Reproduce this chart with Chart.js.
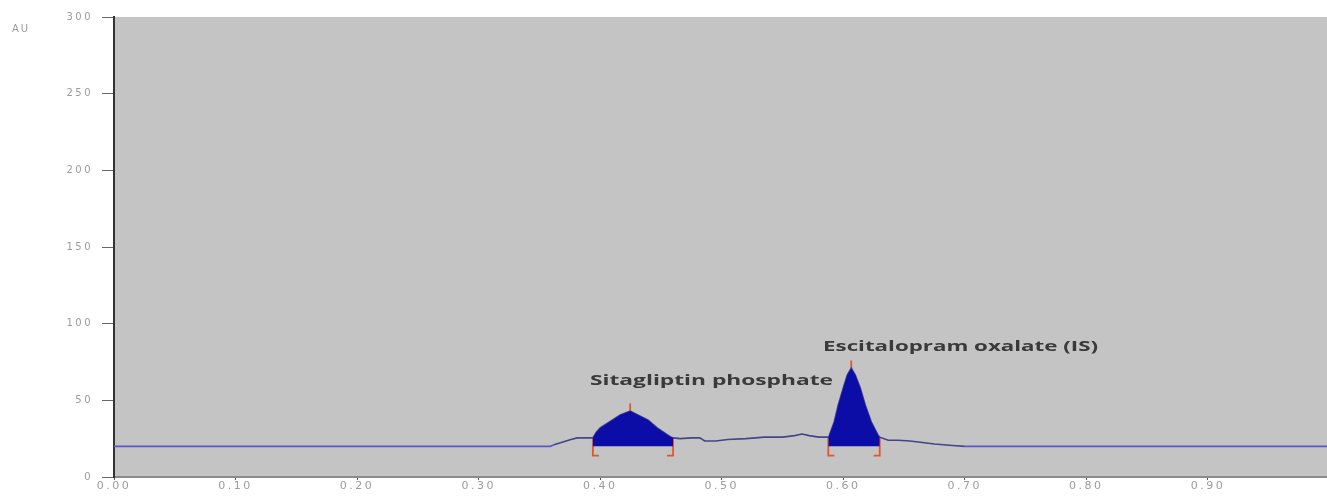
<!DOCTYPE html>
<html>
<head>
<meta charset="utf-8">
<script src="https://cdn.jsdelivr.net/npm/chart.js@4/dist/chart.umd.min.js"></script>
<style>
  html, body { margin: 0; padding: 0; background: #fff; }
  #wrap { width: 1327px; height: 496px; position: relative; }
</style>
</head>
<body>
<div id="wrap"><canvas id="densitogram"></canvas></div>
<script>
// Rf values (x) and absorbance in AU (y)
const rfValues = [
  0.000, 0.359, 0.362, 0.368, 0.372, 0.376, 0.381, 0.388, 0.394,
  0.3967, 0.400, 0.4099, 0.4165, 0.4247, 0.4395, 0.4469, 0.4576, 0.460,
  0.466, 0.475, 0.482, 0.486, 0.495, 0.505, 0.520, 0.535, 0.550, 0.560, 0.566, 0.572, 0.580, 0.5877,
  0.5885, 0.5926, 0.5959, 0.600, 0.6033, 0.6066, 0.6099, 0.614, 0.6181, 0.623, 0.6288, 0.630,
  0.637, 0.645, 0.655, 0.665, 0.675, 0.690, 0.700, 0.998
];
const auValues = [
  20, 20, 21, 22.5, 23.5, 24.5, 25.5, 25.5, 25.5,
  29, 32, 37, 40.4, 43, 37, 32, 26.3, 25.5,
  25, 25.5, 25.5, 23.5, 23.5, 24.5, 25, 26, 26, 27, 28, 27, 26, 26,
  27, 36, 47, 58, 66.5, 71, 66.5, 58, 47, 36, 27, 26,
  24, 24, 23.5, 22.5, 21.5, 20.5, 20, 20
];

const peakNames = ['Sitagliptin phosphate', 'Escitalopram oxalate (IS)'];
const peakStart = [0.394, 0.5877];
const peakEnd = [0.460, 0.630];
const peakApex = [0.4247, 0.6066];
const peakLabelX = [0.4916, 0.6965];
const peakLabelY = [63, 85];
const peakLabelW = [243, 275];

const yTicks = [0, 50, 100, 150, 200, 250, 300];

const trace = rfValues.map((x, i) => ({ x: x, y: auValues[i] }));
const auAt = x => auValues[rfValues.indexOf(x)];

const datasets = [];

// filled integration areas
peakStart.forEach((s, i) => {
  datasets.push({
    data: trace.filter(p => p.x >= s && p.x <= peakEnd[i]),
    showLine: true,
    pointRadius: 0,
    borderWidth: 0,
    backgroundColor: '#0c0ca6',
    fill: { value: 20 }
  });
});

datasets.push({
  data: trace,
  showLine: true,
  pointRadius: 0,
  borderWidth: 1.6,
  borderColor: '#5656d4',
  segment: {
    borderColor: ctx => (ctx.p0.parsed.x >= 0.36 && ctx.p0.parsed.x < 0.70) ? '#44448a' : '#5656d4'
  },
  fill: false
});

// red integration brackets and apex ticks
peakStart.forEach((s, i) => {
  const e = peakEnd[i];
  datasets.push({
    data: [{ x: s, y: auAt(s) }, { x: s, y: 14 }, { x: s + 0.005, y: 14 }],
    showLine: true, pointRadius: 0, borderWidth: 1.8, borderColor: '#e2552f', fill: false
  });
  datasets.push({
    data: [{ x: e, y: auAt(e) }, { x: e, y: 14 }, { x: e - 0.005, y: 14 }],
    showLine: true, pointRadius: 0, borderWidth: 1.8, borderColor: '#e2552f', fill: false
  });
  datasets.push({
    data: [{ x: peakApex[i], y: auAt(peakApex[i]) }, { x: peakApex[i], y: auAt(peakApex[i]) + 5 }],
    showLine: true, pointRadius: 0, borderWidth: 1.8, borderColor: '#e2552f', fill: false
  });
});

const plotBg = {
  id: 'plotBg',
  beforeDraw(chart) {
    const { ctx, chartArea: a } = chart;
    ctx.fillStyle = '#c4c4c4';
    ctx.fillRect(a.left, a.top, a.right - a.left, a.bottom - a.top);
    // wide, spaced-out tick lettering like the scanner printout
    ctx.letterSpacing = '2.5px';
  }
};

const labels = {
  id: 'labels',
  afterDraw(chart) {
    const { ctx, chartArea: a, scales } = chart;
    ctx.save();
    ctx.letterSpacing = '2px';
    ctx.fillStyle = '#9a9a9a';
    ctx.font = '10px "DejaVu Sans"';
    ctx.textAlign = 'left';
    ctx.textBaseline = 'middle';
    ctx.fillText('AU', a.left - 102, a.top + 12);

    ctx.letterSpacing = '0px';
    ctx.fillStyle = '#3a3a3a';
    ctx.font = 'bold 15px "Open Sans"';
    ctx.textAlign = 'center';
    peakNames.forEach((name, i) => {
      const px = scales.x.getPixelForValue(peakLabelX[i]);
      const py = scales.y.getPixelForValue(peakLabelY[i]);
      const w = ctx.measureText(name).width;
      const k = peakLabelW[i] / w;
      ctx.save();
      ctx.translate(px, py);
      ctx.scale(k, 1);
      ctx.fillText(name, 0, 0);
      ctx.restore();
    });
    ctx.restore();
  }
};

new Chart(document.getElementById('densitogram'), {
  type: 'scatter',
  data: { datasets: datasets },
  plugins: [plotBg, labels],
  options: {
    responsive: true,
    maintainAspectRatio: false,
    animation: false,
    layout: { padding: { top: 17, right: 0, left: 0, bottom: 0 } },
    plugins: { legend: { display: false }, tooltip: { enabled: false } },
    scales: {
      x: {
        type: 'linear',
        min: 0,
        max: 0.998,
        afterBuildTicks: s => {
          s.ticks = [0, 1, 2, 3, 4, 5, 6, 7, 8, 9].map(k => ({ value: k / 10 }));
        },
        afterFit: s => { s.height = 19; },
        ticks: {
          color: '#9c9c9c',
          font: { family: 'DejaVu Sans', size: 11 },
          padding: 0,
          maxRotation: 0,
          autoSkip: false,
          callback: v => v.toFixed(2)
        },
        grid: { drawOnChartArea: false, tickLength: 3, color: '#555' },
        border: { color: '#8c8c8c', width: 2 }
      },
      y: {
        min: 0,
        max: 300,
        afterBuildTicks: s => { s.ticks = yTicks.map(v => ({ value: v })); },
        afterFit: s => { s.width = 114; },
        ticks: {
          color: '#9c9c9c',
          font: { family: 'DejaVu Sans', size: 10 },
          padding: 9
        },
        grid: { drawOnChartArea: false, tickLength: 12, color: '#666' },
        border: { color: '#333', width: 2 }
      }
    }
  }
});
</script>
</body>
</html>
